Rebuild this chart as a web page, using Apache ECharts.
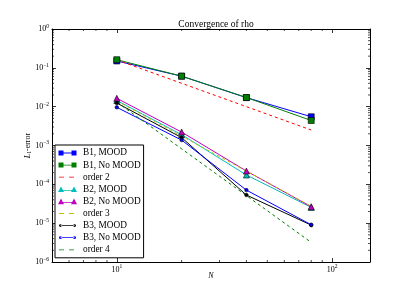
<!DOCTYPE html>
<html>
<head>
<meta charset="utf-8">
<script src="https://cdn.jsdelivr.net/npm/echarts@6/dist/echarts.min.js"></script>
<style>html,body{margin:0;padding:0;background:#fff}#c{width:412px;height:291px}</style>
</head>
<body>
<div id="c"></div>
<script>
var N = [10, 20, 40, 80];
var b1Mood = [0.15, 0.061, 0.0171, 0.0055];
var b1NoMood = [0.162, 0.061, 0.0172, 0.0044];
var order2 = [0.16, 0.04, 0.01, 0.0025];
var b2Mood = [0.0144, 0.0019, 0.000174, 0.0000255];
var b2NoMood = [0.0164, 0.00222, 0.00022, 0.0000265];
var order3 = [0.014, 0.00175, 0.000219, 0.0000273];
var b3Mood = [0.0124, 0.0016, 0.000053, 0.0000089];
var b3NoMood = [0.0096, 0.00138, 0.000071, 0.0000091];
var order4 = [0.0131, 0.00082, 0.0000512, 0.0000032];
var seriesNames = ['B1, MOOD', 'B1, No MOOD', 'order 2', 'B2, MOOD', 'B2, No MOOD', 'order 3', 'B3, MOOD', 'B3, No MOOD', 'order 4'];
var xMin = 5, xMax = 150, yMin = 1e-6, yMax = 1;

var FONT = 'Liberation Serif';
function pairs(vals) { return N.map(function (n, i) { return [n, vals[i]]; }); }
function mk(name, vals, color, symbol, size, dashed) {
  return {
    name: name, type: 'line', data: pairs(vals),
    symbol: symbol || 'none', symbolSize: size || 0, showSymbol: !!symbol,
    lineStyle: { color: color, width: 1, type: dashed ? [3, 3] : 'solid' },
    itemStyle: { color: color, borderColor: '#000', borderWidth: 0.6 },
    color: color, animation: false, z: 3
  };
}
function powLabel(v) {
  var e = Math.round(Math.log10(v));
  var s = e < 0 ? '\u2212' + (-e) : '' + e;
  return '{b|10}{s|' + s + '}';
}
// legend icons (matplotlib style: two markers joined by a line); box 19x8
var BOX = 'M0,0h0.01v0.01h-0.01z M18.99,7.99h0.01v0.01h-0.01z ';
var iconSquare = 'path://' + BOX + 'M0.5,1.5h5v5h-5z M13.5,1.5h5v5h-5z M5.5,3.6h8v0.8h-8z';
var iconTri = 'path://' + BOX + 'M0,6.8L3,1.2L6,6.8z M13,6.8L16,1.2L19,6.8z M5,4.6h9v0.8h-9z';
var iconDot = 'path://' + BOX + 'M1,4a1.4,1.4 0 1,0 2.8,0a1.4,1.4 0 1,0 -2.8,0z M15.2,4a1.4,1.4 0 1,0 2.8,0a1.4,1.4 0 1,0 -2.8,0z M2.5,3.6h14v0.8h-14z';
var iconDash = 'path://' + BOX + 'M1,3.6h5v0.8h-5z M11,3.6h5v0.8h-5z';
var legendIcons = [iconSquare, iconSquare, iconDash, iconTri, iconTri, iconDash, iconDot, iconDot, iconDash];

var rich = { b: { fontFamily: FONT, fontSize: 8, color: '#000' }, s: { fontFamily: FONT, fontSize: 5.5, color: '#000', verticalAlign: 'top', padding: [0, 0, 5, 0] } };
var tickStyle = { show: true, inside: true, length: 4, lineStyle: { color: '#000', width: 0.8 } };
var lineStyleAx = { show: true, lineStyle: { color: '#000', width: 1 } };

var chart = echarts.init(document.getElementById('c'), null, { renderer: 'canvas' });
var option = {
  animation: false,
  backgroundColor: '#fff',
  title: { text: 'Convergence of rho', left: 211, top: 14, textAlign: 'center', textStyle: { fontFamily: FONT, fontSize: 9.5, fontWeight: 'normal', color: '#000' } },
  grid: { left: 52, right: 42, top: 29, bottom: 29, containLabel: false },
  legend: {
    orient: 'vertical', left: 55, top: 145,
    data: seriesNames.map(function (n, i) { return { name: n, icon: legendIcons[i] }; }),
    backgroundColor: '#fff', borderColor: '#000', borderWidth: 1, borderRadius: 0,
    padding: [3, 3, 3, 3], itemGap: 2.1, itemWidth: 19, itemHeight: 8,
    itemStyle: { borderWidth: 0 },
    textStyle: { fontFamily: FONT, fontSize: 9.3, lineHeight: 10, color: '#000', padding: [0, 0, 0, 1] },
    z: 10
  },
  xAxis: [
    { type: 'log', logBase: 10, min: xMin, max: xMax, position: 'bottom', name: 'N', nameLocation: 'middle', nameGap: 10, nameMoveOverlap: false,
      nameTextStyle: { fontFamily: FONT, fontStyle: 'italic', fontSize: 8, color: '#000' },
      axisLine: lineStyleAx, axisTick: tickStyle, splitLine: { show: false },
      axisLabel: { showMinLabel: false, showMaxLabel: false, margin: 2, formatter: powLabel, rich: rich } },
    { type: 'log', logBase: 10, min: xMin, max: xMax, position: 'top', axisLine: lineStyleAx, axisTick: tickStyle, splitLine: { show: false }, axisLabel: { show: false } }
  ],
  yAxis: [
    { type: 'log', logBase: 10, min: yMin, max: yMax, position: 'left', name: '{i|L}{sub|1}{n|-error}', nameLocation: 'middle', nameGap: 19, nameRotate: 90, nameMoveOverlap: false,
      nameTextStyle: { rich: { i: { fontFamily: FONT, fontStyle: 'italic', fontSize: 8, color: '#000' }, sub: { fontFamily: FONT, fontSize: 5.5, color: '#000', verticalAlign: 'bottom', padding: [4, 0, 0, 0] }, n: { fontFamily: FONT, fontSize: 8, color: '#000' } } },
      axisLine: lineStyleAx, axisTick: tickStyle, splitLine: { show: false },
      axisLabel: { margin: 3, formatter: powLabel, rich: rich } },
    { type: 'log', logBase: 10, min: yMin, max: yMax, position: 'right', axisLine: lineStyleAx, axisTick: tickStyle, splitLine: { show: false }, axisLabel: { show: false } }
  ],
  series: [
    mk(seriesNames[0], b1Mood, '#0000ff', 'rect', 6),
    mk(seriesNames[1], b1NoMood, '#008000', 'rect', 6),
    mk(seriesNames[2], order2, '#ff0000', null, 0, true),
    mk(seriesNames[3], b2Mood, '#00bfbf', 'triangle', 6),
    mk(seriesNames[4], b2NoMood, '#bf00bf', 'triangle', 6),
    mk(seriesNames[5], order3, '#bfbf00', null, 0, true),
    mk(seriesNames[6], b3Mood, '#000000', 'circle', 3.5),
    mk(seriesNames[7], b3NoMood, '#0000ff', 'circle', 3.5),
    mk(seriesNames[8], order4, '#008000', null, 0, true)
  ]
};
chart.setOption(option);

// minor ticks through the library's scales
function minorVals(lo, hi) {
  var out = [];
  for (var e = Math.floor(Math.log10(lo)); e <= Math.ceil(Math.log10(hi)); e++) {
    for (var m = 2; m <= 9; m++) {
      var v = m * Math.pow(10, e);
      if (v > lo && v < hi) out.push(v);
    }
  }
  return out;
}
var g = [];
var y0 = chart.convertToPixel({ yAxisIndex: 0 }, yMin), y1 = chart.convertToPixel({ yAxisIndex: 0 }, yMax);
var x0 = chart.convertToPixel({ xAxisIndex: 0 }, xMin), x1 = chart.convertToPixel({ xAxisIndex: 0 }, xMax);
var ms = { stroke: '#000', lineWidth: 0.7 };
minorVals(xMin, xMax).forEach(function (v) {
  var x = chart.convertToPixel({ xAxisIndex: 0 }, v);
  g.push({ type: 'line', shape: { x1: x, y1: y0, x2: x, y2: y0 - 2 }, style: ms, silent: true });
  g.push({ type: 'line', shape: { x1: x, y1: y1, x2: x, y2: y1 + 2 }, style: ms, silent: true });
});
minorVals(yMin, yMax).forEach(function (v) {
  var y = chart.convertToPixel({ yAxisIndex: 0 }, v);
  g.push({ type: 'line', shape: { x1: x0, y1: y, x2: x0 + 2, y2: y }, style: ms, silent: true });
  g.push({ type: 'line', shape: { x1: x1, y1: y, x2: x1 - 2, y2: y }, style: ms, silent: true });
});
chart.setOption({ graphic: g });
</script>
</body>
</html>
